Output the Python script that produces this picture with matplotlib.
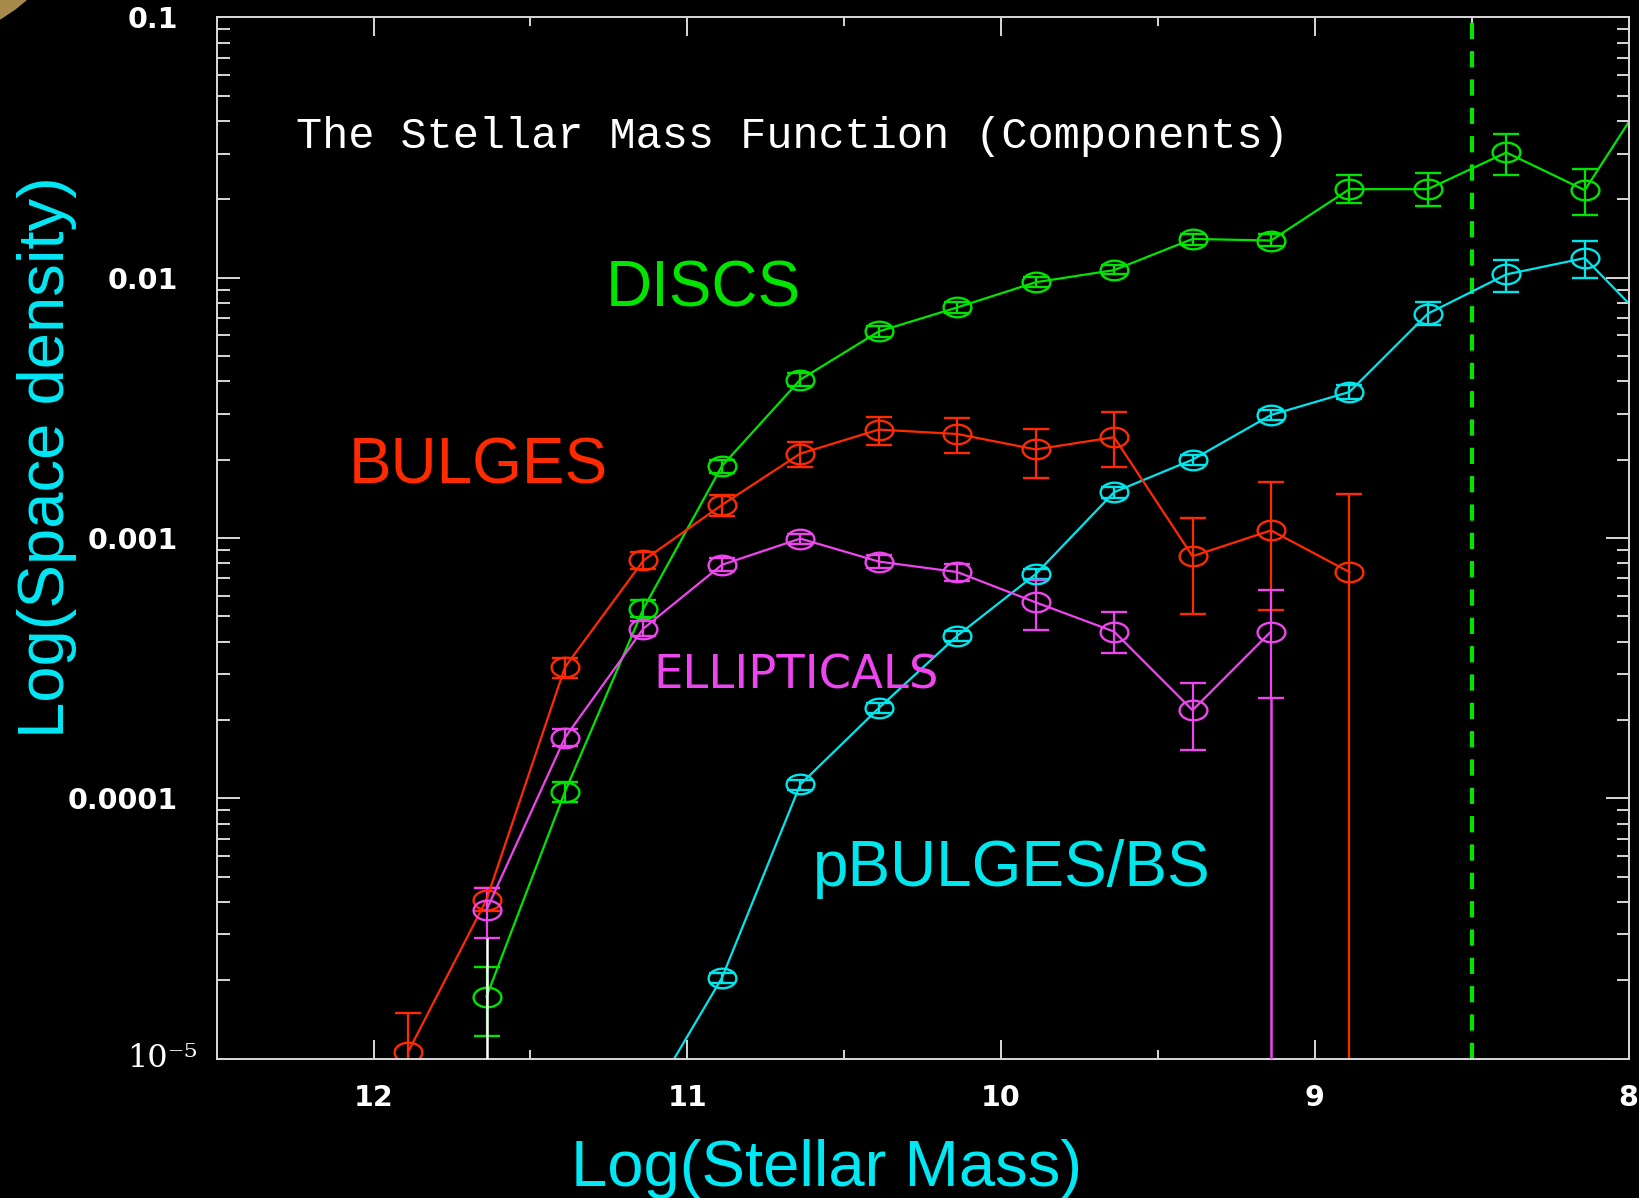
import numpy as np
import matplotlib.pyplot as plt
from matplotlib.path import Path
from matplotlib.transforms import Affine2D, blended_transform_factory
from matplotlib.ticker import FixedLocator, FixedFormatter, NullFormatter, LogLocator
from matplotlib.patches import Polygon

# --- space densities of the components, per 0.25 dex bin of log stellar mass ---
disc_x = [11.64, 11.39, 11.14, 10.89, 10.64, 10.39, 10.14, 9.89, 9.64, 9.39, 9.14, 8.89, 8.64, 8.39, 8.14, 7.89]
disc_phi = [1.73e-5, 1.06e-4, 5.35e-4, 1.89e-3, 4.06e-3, 6.22e-3, 7.69e-3, 9.61e-3, 1.07e-2, 1.41e-2, 1.39e-2,
            2.19e-2, 2.19e-2, 3.03e-2, 2.17e-2, 6.36e-2]
disc_hi = [2.24e-5, 1.16e-4, 5.77e-4, 2.00e-3, 4.30e-3, 6.52e-3, 8.07e-3, 1.01e-2, 1.12e-2, 1.47e-2, 1.47e-2,
           2.49e-2, 2.52e-2, 3.58e-2, 2.61e-2, np.nan]
disc_lo = [1.22e-5, 9.66e-5, 4.97e-4, 1.78e-3, 3.85e-3, 5.94e-3, 7.35e-3, 9.18e-3, 1.03e-2, 1.34e-2, 1.32e-2,
           1.94e-2, 1.89e-2, 2.49e-2, 1.74e-2, np.nan]

bulge_x = [11.89, 11.64, 11.39, 11.14, 10.89, 10.64, 10.39, 10.14, 9.89, 9.64, 9.39, 9.14, 8.89]
bulge_phi = [1.06e-5, 4.08e-5, 3.19e-4, 8.20e-4, 1.34e-3, 2.11e-3, 2.61e-3, 2.51e-3, 2.19e-3, 2.44e-3, 8.51e-4,
             1.07e-3, 7.40e-4]
bulge_hi = [1.50e-5, 4.52e-5, 3.47e-4, 8.83e-4, 1.46e-3, 2.33e-3, 2.91e-3, 2.88e-3, 2.63e-3, 3.05e-3, 1.19e-3,
            1.64e-3, 1.48e-3]
bulge_lo = [1e-7, 3.70e-5, 2.90e-4, 7.60e-4, 1.22e-3, 1.88e-3, 2.27e-3, 2.13e-3, 1.70e-3, 1.88e-3, 5.11e-4,
            5.31e-4, 1e-7]

ell_x = [11.64, 11.39, 11.14, 10.89, 10.64, 10.39, 10.14, 9.89, 9.64, 9.39, 9.14]
ell_phi = [3.73e-5, 1.71e-4, 4.49e-4, 7.89e-4, 9.95e-4, 8.12e-4, 7.40e-4, 5.66e-4, 4.37e-4, 2.18e-4, 4.37e-4]
ell_hi = [4.52e-5, 1.85e-4, 4.79e-4, 8.35e-4, 1.04e-3, 8.59e-4, 7.97e-4, 6.87e-4, 5.21e-4, 2.77e-4, 6.33e-4]
ell_lo = [2.90e-5, 1.59e-4, 4.21e-4, 7.46e-4, 9.51e-4, 7.68e-4, 6.81e-4, 4.45e-4, 3.63e-4, 1.53e-4, 2.42e-4]

pb_x = [11.14, 10.89, 10.64, 10.39, 10.14, 9.89, 9.64, 9.39, 9.14, 8.89, 8.64, 8.39, 8.14, 7.89]
pb_phi = [6.3e-6, 2.04e-5, 1.13e-4, 2.22e-4, 4.21e-4, 7.26e-4, 1.50e-3, 2.00e-3, 2.97e-3, 3.64e-3, 7.28e-3,
          1.03e-2, 1.19e-2, 5.83e-3]
pb_hi = [np.nan, 2.14e-5, 1.18e-4, 2.32e-4, 4.40e-4, 7.60e-4, 1.57e-3, 2.09e-3, 3.11e-3, 3.86e-3, 8.07e-3,
         1.17e-2, 1.39e-2, np.nan]
pb_lo = [np.nan, 1.95e-5, 1.08e-4, 2.12e-4, 4.02e-4, 6.93e-4, 1.43e-3, 1.91e-3, 2.84e-3, 3.43e-3, 6.58e-3,
         8.85e-3, 9.98e-3, np.nan]

# error bars that run off the bottom of the plot
drop_x = [11.64, 9.14]
drop_top = [2.90e-5, 2.42e-4]

mass_cut = 8.5

xticks = [12, 11, 10, 9, 8]
xminor = [11.5, 10.5, 9.5, 8.5]
yticks = [1e-5, 1e-4, 1e-3, 1e-2, 1e-1]
ylabels = ['', '0.0001', '0.001', '0.01', '0.1']

GREEN = '#00e400'
RED = '#ff2a00'
MAG = '#ee46ee'
CYAN = '#00e6ec'
LABEL = '#00e8f4'

# squashed circle used as the marker
ell_marker = Path.unit_circle().transformed(Affine2D().scale(1.42, 1.0))

fig = plt.figure(figsize=(16.39, 11.98), dpi=100, facecolor='black')
ax = fig.add_axes([0.1322, 0.1164, 0.8615, 0.869], facecolor='black')


def plot_comp(x, phi, lo, hi, col):
    phi = np.array(phi)
    err = np.array([phi - np.array(lo), np.array(hi) - phi])
    ax.errorbar(x, phi, yerr=err, color=col, lw=1.6, marker=ell_marker, ms=20, mfc='none',
                mec=col, mew=1.7, ecolor=col, elinewidth=1.6, capsize=9.5, capthick=1.6)


plot_comp(pb_x, pb_phi, pb_lo, pb_hi, CYAN)
plot_comp(disc_x, disc_phi, disc_lo, disc_hi, GREEN)
plot_comp(bulge_x, bulge_phi, bulge_lo, bulge_hi, RED)
plot_comp(ell_x, ell_phi, ell_lo, ell_hi, MAG)

ax.vlines(drop_x[0], 1e-7, drop_top[0], color='white', lw=1.8, zorder=5)
ax.vlines(drop_x[1], 1e-7, drop_top[1], color=MAG, lw=1.8, zorder=5)

ax.axvline(mass_cut, color=GREEN, lw=3, dashes=(3.9, 2.9))

ax.set_xlim(12.5, 8)
ax.set_ylim(1e-5, 0.1)
ax.set_yscale('log')

ax.xaxis.set_major_locator(FixedLocator(xticks))
ax.xaxis.set_major_formatter(FixedFormatter([str(t) for t in xticks]))
ax.xaxis.set_minor_locator(FixedLocator(xminor))
ax.yaxis.set_major_locator(FixedLocator(yticks))
ax.yaxis.set_major_formatter(FixedFormatter(ylabels))
ax.yaxis.set_minor_locator(LogLocator(base=10, subs=np.arange(2, 10)))
ax.yaxis.set_minor_formatter(NullFormatter())

for sp in ax.spines.values():
    sp.set_color('#d8d8d8')
    sp.set_linewidth(1.4)

ax.tick_params(which='both', direction='in', top=True, right=True, color='#d8d8d8', width=1.4,
               labelcolor='white')
ax.tick_params(axis='y', which='major', length=16.5, pad=28)
ax.tick_params(axis='y', which='minor', length=9)
ax.tick_params(axis='x', which='major', length=14, pad=18)
ax.tick_params(axis='x', which='minor', length=6.5)
for lab in ax.get_xticklabels() + ax.get_yticklabels():
    lab.set_fontsize(20.5)
    lab.set_fontweight('bold')
    lab.set_fontfamily('DejaVu Sans')

ax.text(-0.014, 1e-5, '10\u207b\u2075', transform=blended_transform_factory(ax.transAxes, ax.transData),
        ha='right', va='center', fontsize=23, color='white', family='DejaVu Serif')

ax.text(10.665, 0.0316, 'The Stellar Mass Function (Components)', color='white', fontsize=31.4,
        family='Liberation Mono', ha='center', va='baseline')
ax.text(10.95, 7.77e-3, 'DISCS', color=GREEN, fontsize=46, family='Liberation Sans', ha='center', va='baseline')
ax.text(11.667, 1.625e-3, 'BULGES', color=RED, fontsize=46, family='Liberation Sans', ha='center', va='baseline')
ax.text(10.653, 2.65e-4, 'ELLIPTICALS', color=MAG, fontsize=33.5, family='DejaVu Sans', ha='center',
        va='baseline')
ax.text(9.967, 4.6e-5, 'pBULGES/BS', color=CYAN, fontsize=46, family='Liberation Sans', ha='center', va='baseline')

fig.text(826 / 1639, 1 - 1186 / 1198, 'Log(Stellar Mass)', color=LABEL, fontsize=47, family='Liberation Sans',
         ha='center', va='baseline')
fig.text(47 / 1639, 1 - 457 / 1198, 'Log(Space density)', color=LABEL, fontsize=47, family='Liberation Sans',
         ha='center', va='center', rotation=90)

# corner of the slide border
corner = [(0, 0), (26, 0), (15, 9), (0, 19)]
fig.patches.append(Polygon([(px / 1639, 1 - py / 1198) for px, py in corner], closed=True,
                           transform=fig.transFigure, color='#a88b4c'))

fig.savefig('out.png', dpi=100, facecolor='black')
